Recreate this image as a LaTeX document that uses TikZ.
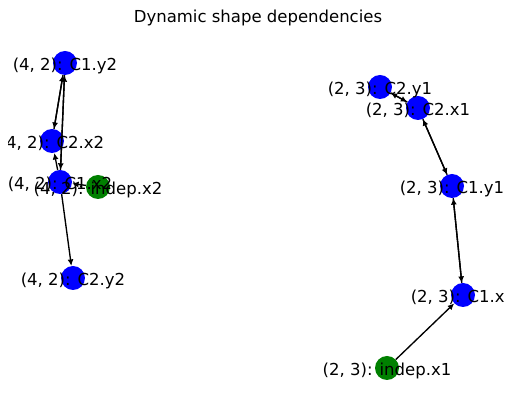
\documentclass[tikz,border=0pt]{standalone}
\usepackage{fontspec}
\setmainfont{DejaVu Sans}
\usetikzlibrary{arrows.meta}
\begin{document}
\begin{tikzpicture}[x=1pt,y=-1pt,
  bnode/.style={circle,fill={rgb,255:red,0;green,0;blue,255},minimum size=24pt,inner sep=0pt},
  gnode/.style={circle,fill={rgb,255:red,0;green,128;blue,0},minimum size=24pt,inner sep=0pt},
  lbl/.style={font=\fontsize{16.5}{18}\selectfont,inner sep=0pt,text=black,yshift=-2.5pt},
  edge/.style={-{Latex[length=6.5pt,width=6pt]},line width=1.35pt,black}]
\useasboundingbox (0,0) rectangle (515,411);
\node[font=\fontsize{16.5}{18}\selectfont] (title) at (258,18) {Dynamic shape dependencies};
\begin{scope}
\clip (8.5,32) rectangle (505,402);
% nodes
\node[bnode] (c1y2) at (65,63) {};
\node[bnode] (c2x2) at (52,141) {};
\node[bnode] (c1x2) at (60,182) {};
\node[gnode] (ix2) at (98,187) {};
\node[bnode] (c2y2) at (73,278) {};
\node[bnode] (c2y1) at (380,87) {};
\node[bnode] (c2x1) at (418,108) {};
\node[bnode] (c1y1) at (452,186) {};
\node[bnode] (c1x1) at (463,295) {};
\node[gnode] (ix1) at (387,368) {};
% edges
\draw[edge] (c1y2) -- (c2x2);
\draw[edge] (c2x2) -- (c1y2);
\draw[edge] (c1y2) -- (c1x2);
\draw[edge] (c1x2) -- (c1y2);
\draw[edge] (c1x2) -- (c2x2);
\draw[edge] (ix2) -- (c1x2);
\draw[edge] (c1x2) -- (c2y2);
\draw[edge] (c2y1) -- (c2x1);
\draw[edge] (c2x1) -- (c2y1);
\draw[edge] (c2x1) -- (c1y1);
\draw[edge] (c1y1) -- (c2x1);
\draw[edge] (c1y1) -- (c1x1);
\draw[edge] (c1x1) -- (c1y1);
\draw[edge] (ix1) -- (c1x1);
% labels
\node[lbl] (l1) at (c1y2) {(4, 2): C1.y2};
\node[lbl] (l2) at (c2x2) {(4, 2): C2.x2};
\node[lbl] (l3) at (c1x2) {(4, 2): C1.x2};
\node[lbl] (l4) at (ix2) {(4, 2): indep.x2};
\node[lbl] (l5) at (c2y2) {(4, 2): C2.y2};
\node[lbl] (l6) at (c2y1) {(2, 3): C2.y1};
\node[lbl] (l7) at (c2x1) {(2, 3): C2.x1};
\node[lbl] (l8) at (c1y1) {(2, 3): C1.y1};
\node[lbl] (l9) at (c1x1) {(2, 3): C1.x1};
\node[lbl] (l10) at (ix1) {(2, 3): indep.x1};
\end{scope}
\end{tikzpicture}
\end{document}
